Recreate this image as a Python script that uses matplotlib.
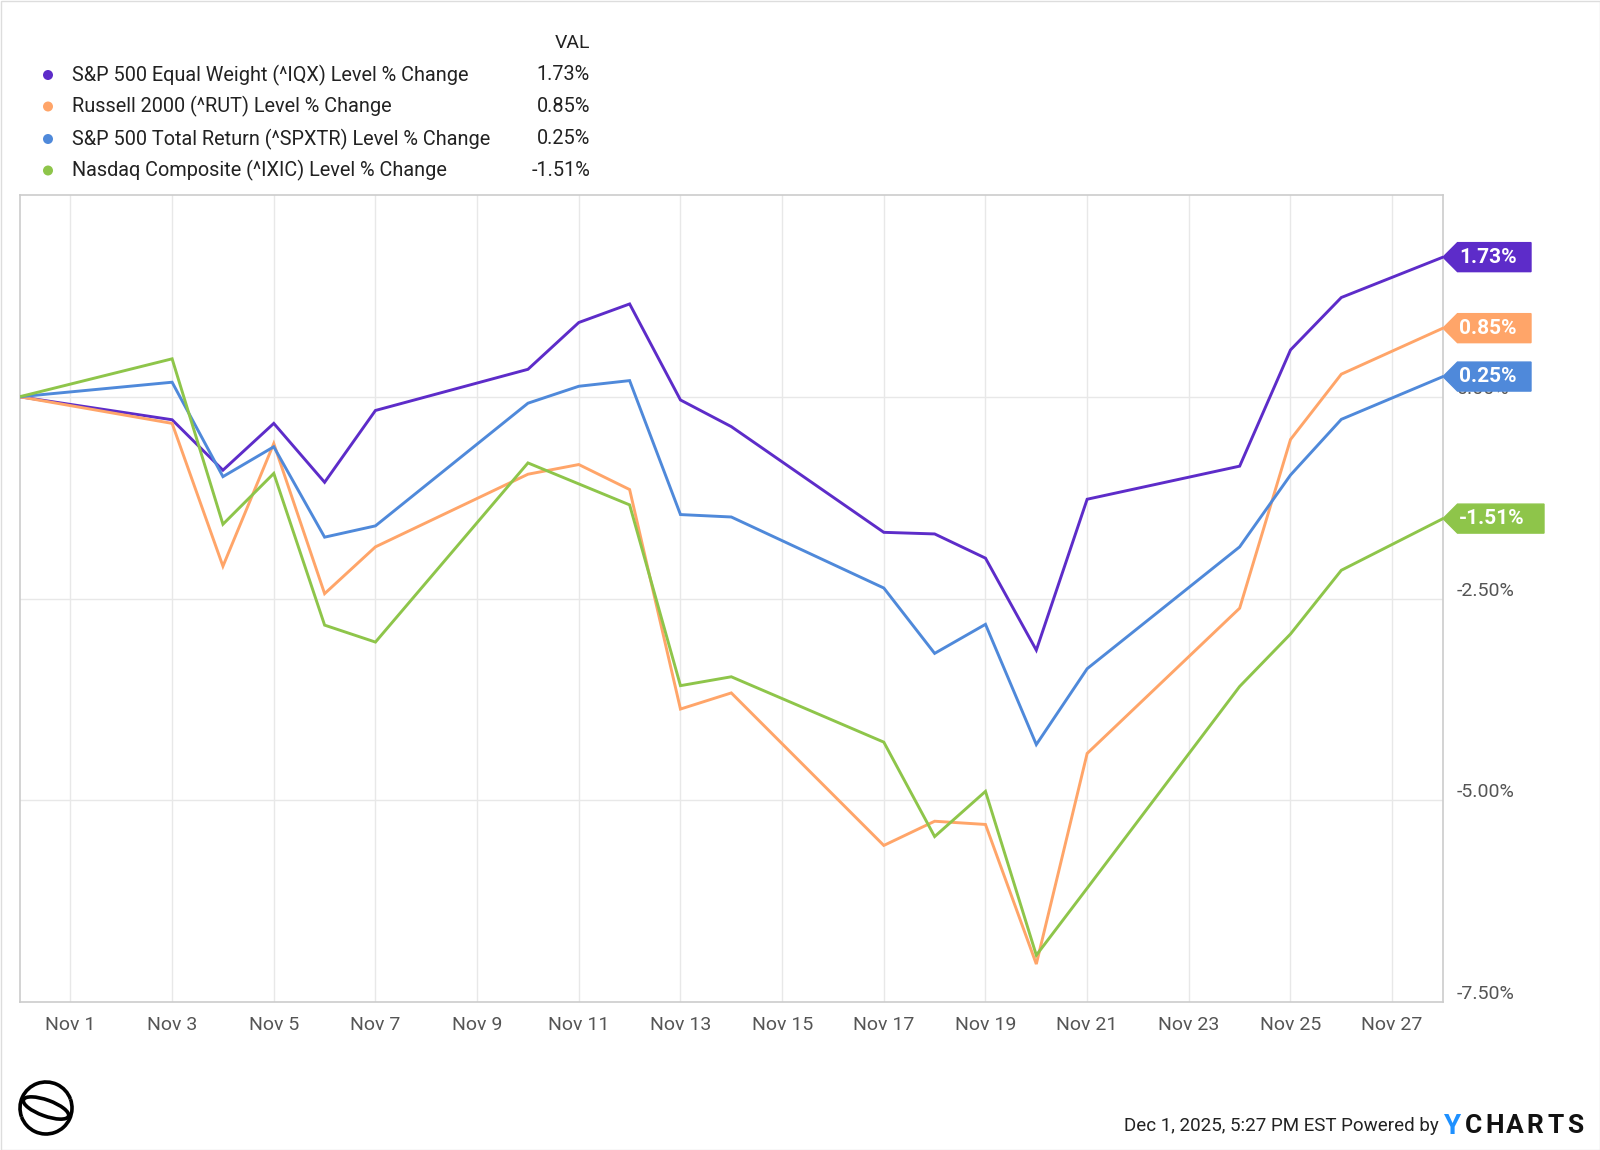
import matplotlib
matplotlib.use("Agg")
import matplotlib.pyplot as plt
import matplotlib.dates as mdates
from matplotlib.patches import Polygon, Ellipse, Rectangle, Arc
import pandas as pd
import numpy as np

plt.rcParams['font.family'] = ['Roboto', 'DejaVu Sans']

dates = pd.to_datetime([
    "2025-10-31", "2025-11-03", "2025-11-04", "2025-11-05", "2025-11-06", "2025-11-07",
    "2025-11-10", "2025-11-11", "2025-11-12", "2025-11-13", "2025-11-14",
    "2025-11-17", "2025-11-18", "2025-11-19", "2025-11-20", "2025-11-21",
    "2025-11-24", "2025-11-25", "2025-11-26", "2025-11-28"])

iqx = [0, -0.285, -0.91, -0.33, -1.06, -0.17, 0.34, 0.92, 1.15, -0.04, -0.37,
       -1.68, -1.70, -2.00, -3.14, -1.27, -0.86, 0.58, 1.23, 1.73]
rut = [0, -0.33, -2.10, -0.58, -2.44, -1.86, -0.96, -0.84, -1.15, -3.87, -3.67,
       -5.56, -5.26, -5.30, -7.03, -4.42, -2.62, -0.53, 0.28, 0.85]
spxtr = [0, 0.18, -0.99, -0.62, -1.74, -1.60, -0.08, 0.13, 0.20, -1.46, -1.49,
         -2.37, -3.18, -2.82, -4.31, -3.37, -1.86, -0.97, -0.28, 0.25]
ixic = [0, 0.47, -1.58, -0.95, -2.83, -3.04, -0.82, -1.08, -1.34, -3.58, -3.47,
        -4.28, -5.45, -4.89, -6.92, -6.09, -3.59, -2.94, -2.15, -1.51]

names = ["S&P 500 Equal Weight (^IQX) Level % Change",
         "Russell 2000 (^RUT) Level % Change",
         "S&P 500 Total Return (^SPXTR) Level % Change",
         "Nasdaq Composite (^IXIC) Level % Change"]
final_labels = ["1.73%", "0.85%", "0.25%", "-1.51%"]
series = [iqx, rut, spxtr, ixic]
colors = ["#5D2CC9", "#FFA569", "#4F89DA", "#8EC54A"]

ytick_vals = [0, -2.5, -5.0, -7.5]
ytick_labels = ["0.00%", "-2.50%", "-5.00%", "-7.50%"]
xtick_dates = pd.date_range("2025-11-01", "2025-11-27", freq="2D")

W, H = 1600, 1150
fig = plt.figure(figsize=(16, 11.5), dpi=100)
fig.patch.set_facecolor("white")
ax = fig.add_axes([19.6 / W, 1 - 1002 / H, (1443 - 19.6) / W, (1002 - 195) / H])

for s, c in zip(series, colors):
    ax.plot(dates, s, color=c, lw=2.1, solid_joinstyle="miter", zorder=3)

ax.set_xlim(pd.Timestamp("2025-10-31"), pd.Timestamp("2025-11-28"))
ax.set_ylim(-7.5, 2.5)
ax.set_xticks(xtick_dates)
ax.set_xticklabels([f"Nov {d.day}" for d in xtick_dates], color="#555555", fontsize=14)
ax.set_yticks(ytick_vals[:3])
ax.set_yticklabels([])
ax.tick_params(axis="both", length=0)
ax.tick_params(axis="x", pad=10)
ax.grid(True, color="#E8E8E8", lw=1.0, zorder=0)
for sp in ax.spines.values():
    sp.set_color("#CCCCCC")
    sp.set_linewidth(1.2)

fig.canvas.draw()

# y tick labels on right, slightly above gridlines
for v, lab in zip(ytick_vals, ytick_labels):
    px, py = ax.transData.transform((mdates.date2num(pd.Timestamp("2025-11-28")), v))
    fig.text((px + 14) / W, (py + 8) / H, lab, ha="left", va="center",
             fontsize=14, color="#555555", zorder=1)

# end tags
for s, c, lab in zip(series, colors, final_labels):
    px, py = ax.transData.transform((mdates.date2num(dates[-1]), s[-1]))
    h = 14.5
    wbox = 88 if not lab.startswith("-") else 101
    verts = [(px, py), (px + h, py + h), (px + wbox, py + h), (px + wbox, py - h), (px + h, py - h)]
    poly = Polygon(verts, closed=True, facecolor=c, edgecolor=c, transform=None, zorder=10)
    fig.add_artist(poly)
    fig.text((px + 16) / W, py / H, lab, ha="left", va="center",
             fontsize=15, fontweight="bold", color="white", zorder=11)

# legend
fig.text(590 / W, 1 - 43 / H, "VAL", ha="right", va="center", fontsize=14, color="#222222")
rows_y = [75, 106.5, 139, 170.5]
for ry, c, n, lab in zip(rows_y, colors, names, final_labels):
    fig.add_artist(Ellipse((48, H - ry), 10, 10, facecolor=c, edgecolor="none", transform=None))
    fig.text(72 / W, 1 - ry / H, n, ha="left", va="center", fontsize=14.3, color="#222222")
    fig.text(590 / W, 1 - ry / H, lab, ha="right", va="center", fontsize=14.3, color="#222222")

# footer
fig.text(1439 / W, 1 - 1126 / H, "Dec 1, 2025, 5:27 PM EST Powered by", ha="right", va="center",
         fontsize=13.5, color="#222222")
fig.text(1444 / W, 1 - 1126 / H, "Y", ha="left", va="center", fontsize=20, fontweight="bold",
         color="#1E90FF")
for i, ch in enumerate("CHARTS"):
    fig.text((1465 + i * 20.5) / W, 1 - 1126 / H, ch, ha="left", va="center", fontsize=19,
             fontweight="bold", color="#111111")

# logo (approximate)
cx, cy = 46, H - 1108
fig.add_artist(Arc((cx, cy), 52, 52, theta1=20, theta2=200, edgecolor="black", lw=2.6, transform=None))
fig.add_artist(Arc((cx, cy), 52, 52, theta1=200, theta2=380, edgecolor="black", lw=2.6, transform=None))
fig.add_artist(Ellipse((cx, cy), 48, 16, angle=-20, facecolor="white", edgecolor="black", lw=2.6, transform=None))

# figure border
fig.add_artist(Rectangle((0.5, 0.5), W - 1, H - 1, facecolor="none", edgecolor="#DDDDDD", lw=1, transform=None))

fig.savefig("out.png", dpi=100)
